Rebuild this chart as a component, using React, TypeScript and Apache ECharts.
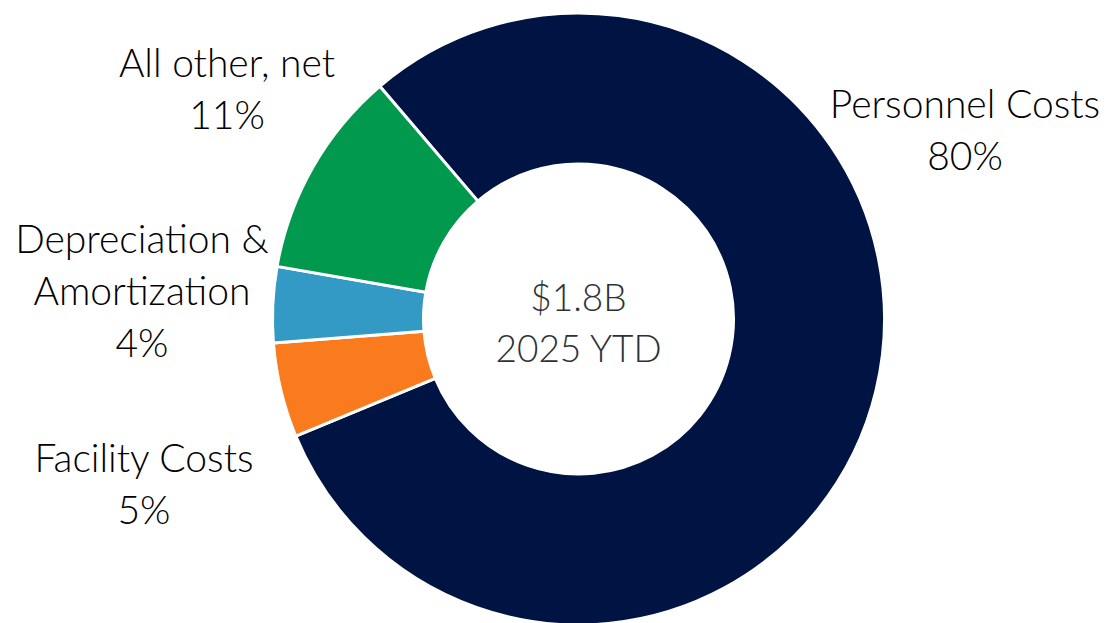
import React, { useEffect, useRef } from "react";
import * as echarts from "echarts";

const categories = ["Personnel Costs", "Facility Costs", "Depreciation &\nAmortization", "All other, net"];
const values = [80, 5, 4, 11];
const colors = ["#001443", "#F97B1E", "#3399C5", "#00994D"];
const centerLines = ["$1.8B", "2025 YTD"];

// label block centres (px) per slice, in the same order as categories
const labelSpots: [number, number][] = [
  [965, 129],
  [144, 483],
  [142, 290],
  [227, 88],
];

const FONT = "Lato, 'Open Sans', sans-serif";

export default function App() {
  const ref = useRef<HTMLDivElement>(null);
  useEffect(() => {
    if (!ref.current) return;
    const chart = echarts.init(ref.current, undefined, { renderer: "svg" });
    chart.setOption({
      animation: false,
      backgroundColor: "#ffffff",
      series: [
        {
          type: "pie",
          center: [578.5, 319],
          radius: [155, 306],
          startAngle: 130.5,
          clockwise: true,
          avoidLabelOverlap: false,
          itemStyle: { borderColor: "#ffffff", borderWidth: 3 },
          label: {
            show: true,
            position: "outside",
            formatter: "{b}\n{d}%",
            fontFamily: FONT,
            fontSize: 39,
            fontWeight: 300,
            lineHeight: 52,
            color: "#000000",
          },
          labelLine: { show: false },
          labelLayout: (p: any) => {
            const s = labelSpots[p.dataIndex];
            return { x: s[0], y: s[1], align: "center", verticalAlign: "middle" };
          },
          emphasis: { disabled: true },
          data: categories.map((c, i) => ({
            name: c,
            value: values[i],
            itemStyle: { color: colors[i] },
          })),
        },
      ],
      graphic: [
        {
          type: "text",
          x: 578.5,
          y: 322,
          style: {
            text: centerLines.join("\n"),
            fontFamily: FONT,
            fontSize: 37,
            fontWeight: 300,
            lineHeight: 51,
            fill: "#2E3236",
            align: "center",
            verticalAlign: "middle",
          },
        },
      ],
    });
    return () => chart.dispose();
  }, []);
  return (
    <div
      ref={ref}
      style={{ position: "absolute", left: 0, top: 0, width: 1107, height: 623 }}
    />
  );
}
